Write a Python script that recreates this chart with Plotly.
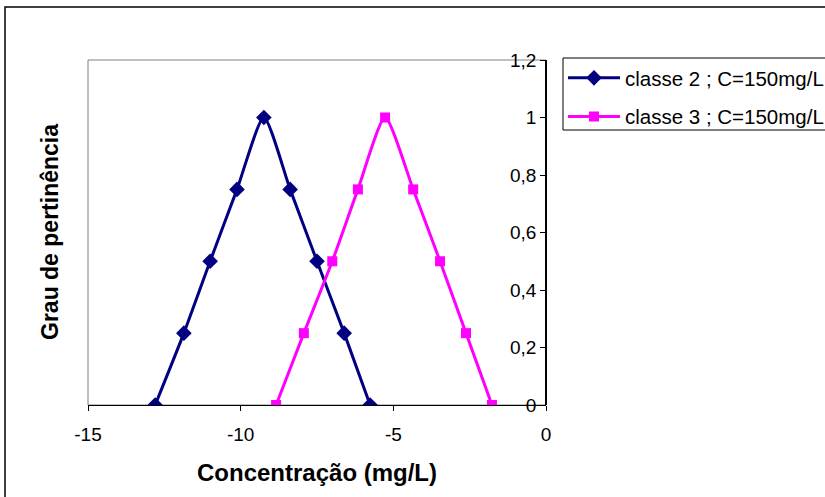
import plotly.graph_objects as go

# Membership functions (concentration vs. degree of membership)
grau = [0, 0.25, 0.5, 0.75, 1, 0.75, 0.5, 0.25, 0]
conc_classe2 = [-12.8, -11.86, -11.0, -10.12, -9.24, -8.38, -7.5, -6.61, -5.76]
conc_classe3 = [-8.84, -7.93, -7.0, -6.16, -5.27, -4.35, -3.47, -2.62, -1.77]
nome_classe2 = "classe 2 ; C=150mg/L"
nome_classe3 = "classe 3 ; C=150mg/L"
x_ticks = [-15, -10, -5, 0]
x_ticktext = ["-15", "-10", "-5", "0"]
y_ticks = [0, 0.2, 0.4, 0.6, 0.8, 1.0, 1.2]
y_ticktext = ["0", "0,2", "0,4", "0,6", "0,8", "1", "1,2"]

W, H = 825, 497
L, R, T, B = 88, 546, 60, 405

fig = go.Figure()
fig.add_trace(go.Scatter(
    x=conc_classe2, y=grau, name=nome_classe2, mode="lines+markers",
    legendgroup="c2",
    line=dict(color="#000080", width=3, shape="spline", smoothing=0.6),
    marker=dict(symbol="diamond", size=12, color="#000080"),
))
fig.add_trace(go.Scatter(
    x=conc_classe3, y=grau, name=nome_classe3, mode="lines+markers",
    legendgroup="c3",
    line=dict(color="#FF00FF", width=3, shape="spline", smoothing=0.6),
    marker=dict(symbol="square", size=10, color="#FF00FF"),
))

def px_x(px):
    return (px - L) / (R - L)

def px_y(py):
    return (B - py) / (B - T)

fig.update_layout(
    width=W, height=H,
    margin=dict(l=L, r=W - R, t=T, b=H - B, autoexpand=False),
    paper_bgcolor="white", plot_bgcolor="white",
    font=dict(family="Liberation Sans, Arial, sans-serif", size=19, color="black"),
    showlegend=True,
    legend=dict(
        x=px_x(563), y=px_y(58), xanchor="left", yanchor="top",
        borderwidth=0, bgcolor="rgba(0,0,0,0)",
        font=dict(size=20.5), itemwidth=52, tracegroupgap=9,
    ),
    xaxis=dict(
        domain=[0, 1], range=[-15, 0], tickvals=x_ticks, ticktext=x_ticktext,
        ticks="outside", ticklen=5, tickcolor="black", ticklabelstandoff=7,
        showline=True, linecolor="black", linewidth=1,
        showgrid=False, zeroline=False, tickfont=dict(size=19),
    ),
    # value axis crosses the category axis at x = 0 (right edge), labels on its left
    yaxis=dict(
        range=[0, 1.2], tickvals=y_ticks, ticktext=y_ticktext,
        anchor="free", position=1.0, side="left", automargin=False,
        ticks="outside", ticklen=5, tickcolor="black",
        showline=True, linecolor="black", linewidth=1.5,
        showgrid=False, zeroline=False, tickfont=dict(size=19),
    ),
    shapes=[
        # plot area frame
        dict(type="rect", xref="paper", yref="paper", x0=0, x1=1, y0=0, y1=1,
             line=dict(color="#808080", width=1), layer="below"),
        # legend frame, running past the right edge of the chart
        dict(type="rect", xref="paper", yref="paper",
             x0=px_x(563), x1=px_x(850), y0=px_y(130), y1=px_y(58),
             line=dict(color="black", width=1), layer="below"),
        # outer chart frame
        dict(type="rect", xref="paper", yref="paper",
             x0=px_x(5), x1=px_x(840), y0=px_y(510), y1=px_y(7),
             line=dict(color="black", width=1.5)),
    ],
    annotations=[
        dict(text="<b>Concentração (mg/L)</b>", xref="paper", yref="paper",
             x=px_x(317), y=px_y(472), showarrow=False, font=dict(size=24),
             xanchor="center", yanchor="middle"),
        dict(text="<b>Grau de pertinência</b>", xref="paper", yref="paper",
             x=px_x(50), y=px_y(232), showarrow=False, font=dict(size=23),
             textangle=-90, xanchor="center", yanchor="middle"),
    ],
)

fig.write_html("out.html")
